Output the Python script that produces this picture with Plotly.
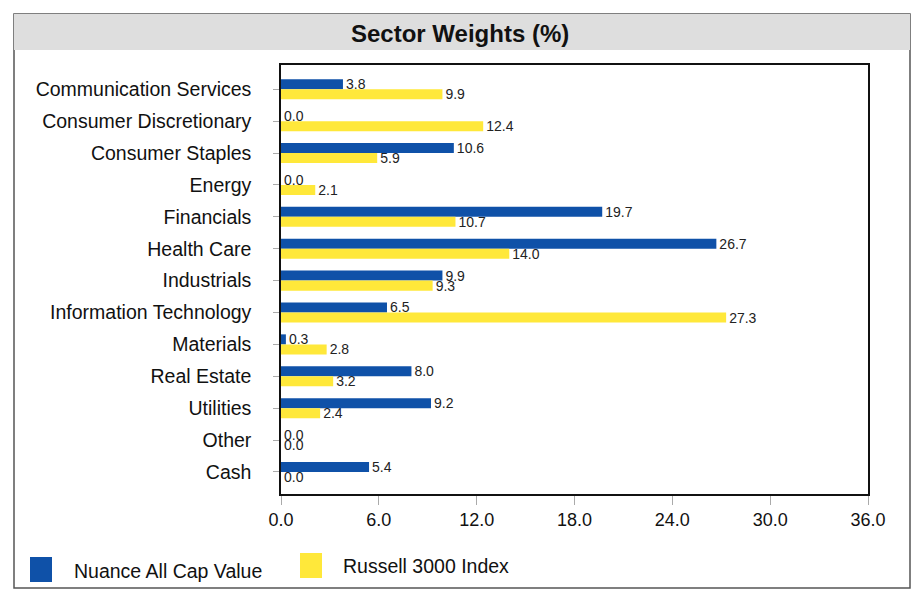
import plotly.graph_objects as go

# Sector weights, in percent
sectors = [
    "Communication Services", "Consumer Discretionary", "Consumer Staples",
    "Energy", "Financials", "Health Care", "Industrials",
    "Information Technology", "Materials", "Real Estate", "Utilities",
    "Other", "Cash",
]
fund_name = "Nuance All Cap Value"
fund_weights = [3.8, 0.0, 10.6, 0.0, 19.7, 26.7, 9.9, 6.5, 0.3, 8.0, 9.2, 0.0, 5.4]
index_name = "Russell 3000 Index"
index_weights = [9.9, 12.4, 5.9, 2.1, 10.7, 14.0, 9.3, 27.3, 2.8, 3.2, 2.4, 0.0, 0.0]
x_ticks = [0, 6, 12, 18, 24, 30, 36]

BLUE = "#0f51a8"
YELLOW = "#ffe83a"
FONT = "Liberation Sans, Arial, sans-serif"

W, H = 918, 591
L, R, T, B = 281, 868, 65, 494  # plot area in pixels


def px(x):
    return (x - L) / (R - L)


def py(y):
    return (B - y) / (B - T)


fig = go.Figure()
for name, vals, col in [(fund_name, fund_weights, BLUE), (index_name, index_weights, YELLOW)]:
    fig.add_trace(go.Bar(
        y=sectors, x=vals, name=name, orientation="h",
        marker=dict(color=col, line=dict(width=0)),
        text=[f"{v:.1f}" for v in vals], textposition="outside",
        constraintext="none",
        textfont=dict(family=FONT, size=14, color="#222222"),
        cliponaxis=False, showlegend=False,
    ))

shapes = [
    # outer frame
    dict(type="rect", xref="paper", yref="paper", x0=px(14), x1=px(910), y0=py(588), y1=py(14),
         line=dict(color="#555555", width=1.5), fillcolor="rgba(0,0,0,0)", layer="below"),
    # title band
    dict(type="rect", xref="paper", yref="paper", x0=px(14), x1=px(910), y0=py(50), y1=py(14),
         line=dict(width=0), fillcolor="#dedede", layer="below"),
    # legend swatches
    dict(type="rect", xref="paper", yref="paper", x0=px(30), x1=px(52), y0=py(582), y1=py(557),
         line=dict(width=0), fillcolor=BLUE),
    dict(type="rect", xref="paper", yref="paper", x0=px(300), x1=px(322), y0=py(578), y1=py(553),
         line=dict(width=0), fillcolor=YELLOW),
]

annotations = [
    dict(text="<b>Sector Weights (%)</b>", xref="paper", yref="paper", x=px(460), y=py(33),
         showarrow=False, font=dict(family="Liberation Sans Narrow, " + FONT, size=24, color="#111111"),
         xanchor="center", yanchor="middle"),
    dict(text=fund_name, xref="paper", yref="paper", x=px(72), y=py(571),
         showarrow=False, font=dict(family=FONT, size=19.5, color="#111111"),
         xanchor="left", yanchor="middle"),
    dict(text=index_name, xref="paper", yref="paper", x=px(341), y=py(566),
         showarrow=False, font=dict(family=FONT, size=19.5, color="#111111"),
         xanchor="left", yanchor="middle"),
]

fig.update_layout(
    width=W, height=H,
    margin=dict(l=L, r=W - R, t=T, b=H - B, pad=0),
    paper_bgcolor="white", plot_bgcolor="white",
    barmode="group", bargap=0.37, bargroupgap=0.0,
    shapes=shapes, annotations=annotations,
    font=dict(family=FONT, color="#111111"),
)
fig.update_xaxes(
    range=[0, 36], tickvals=x_ticks, ticktext=[f"{v:.1f}" for v in x_ticks],
    showgrid=False, zeroline=False, ticks="outside", ticklen=9, tickcolor="#aaaaaa",
    tickfont=dict(family=FONT, size=18, color="#111111"),
    showline=True, linecolor="#111111", linewidth=1.5, mirror=True,
)
fig.update_yaxes(
    range=[12.69, -0.76], showgrid=False, ticks="outside", ticklen=6, tickcolor="#aaaaaa",
    tickfont=dict(family=FONT, size=19.5, color="#111111"), ticklabelstandoff=18,
    showline=True, linecolor="#111111", linewidth=1.5, mirror=True,
)

fig.write_html("out.html")
